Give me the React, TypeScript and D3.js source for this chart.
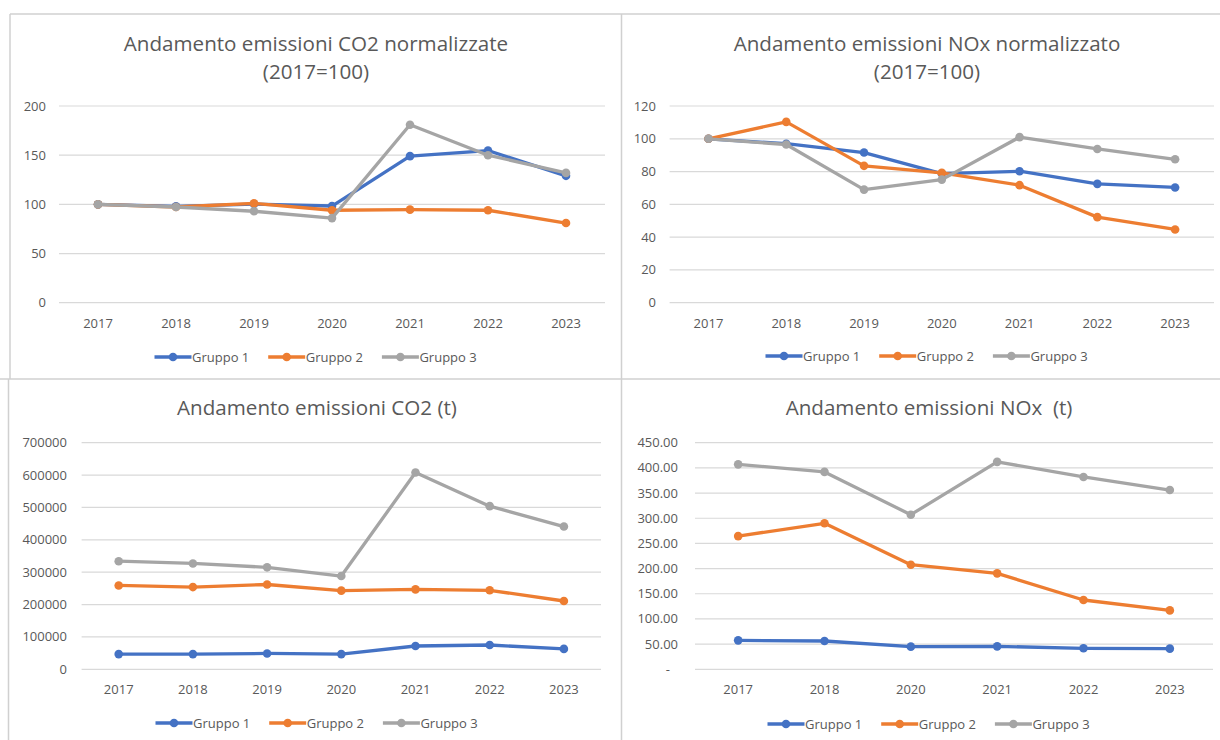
import React from 'react'
import * as d3 from 'd3'

// years on the x axis
const years = ['2017', '2018', '2019', '2020', '2021', '2022', '2023']
const yearsNox = ['2017', '2018', '2020', '2021', '2022', '2023']

const groups = ['Gruppo 1', 'Gruppo 2', 'Gruppo 3']
const colors = ['#4472C4', '#ED7D31', '#A5A5A5']

// CO2 normalizzate (2017=100)
const co2NormG1 = [100, 98, 100.3, 98.3, 149, 154.7, 129]
const co2NormG2 = [100, 97.3, 101, 94, 94.6, 94, 81]
const co2NormG3 = [100, 97.3, 93, 86, 181, 150, 132]

// NOx normalizzato (2017=100)
const noxNormG1 = [100, 97, 91.6, 78.8, 80.2, 72.5, 70.3]
const noxNormG2 = [100, 110.3, 83.5, 79.2, 71.7, 52.2, 44.7]
const noxNormG3 = [100, 96.5, 69, 75.1, 101, 93.8, 87.5]

// CO2 (t)
const co2G1 = [47000, 47000, 49000, 47000, 72000, 75000, 63000]
const co2G2 = [259000, 254000, 262000, 243000, 247000, 244000, 211000]
const co2G3 = [334000, 327000, 315000, 288000, 608000, 504000, 441000]

// NOx (t)
const noxG1 = [57.5, 56.2, 45, 45.6, 41.7, 41]
const noxG2 = [264.5, 290, 207.7, 190.5, 137.6, 117]
const noxG3 = [407, 392, 307, 412, 382, 356]

const co2NormTicks = [0, 50, 100, 150, 200]
const noxNormTicks = [0, 20, 40, 60, 80, 100, 120]
const co2Ticks = [0, 100000, 200000, 300000, 400000, 500000, 600000, 700000]
const noxTicks = [0, 50, 100, 150, 200, 250, 300, 350, 400, 450]

const FONT = '"Open Sans", "Noto Sans", sans-serif'
const TEXT = '#595959'
const GRID = '#D9D9D9'

type PanelProps = {
	title: string[]
	titleY: number
	cats: string[]
	series: number[][]
	ticks: number[]
	fmt: (d: number) => string
	x0: number
	x1: number
	yTop: number
	yBottom: number
	labelRight: number
	xLabelY: number
	legendY: number
	center: number
}

function Panel(props: PanelProps) {
	const {title, titleY, cats, series, ticks, fmt, x0, x1, yTop, yBottom, labelRight, xLabelY, legendY, center} = props
	const x = d3.scalePoint<string>().domain(cats).range([x0, x1]).padding(0.5)
	const y = d3.scaleLinear().domain([0, d3.max(ticks) as number]).range([yBottom, yTop])
	const line = d3.line<number>()
		.x((d, i) => x(cats[i]) as number)
		.y(d => y(d))

	const pitch = 113.7
	const legendStart = center - 323 / 2

	return (
		<g>
			{title.map((t, i) => (
				<text key={`t-${i}`} x={center} y={titleY + i * 28.5} dy="0.35em" textAnchor="middle"
					fontSize={20.6} fill={TEXT}>{t}</text>
			))}
			{ticks.map(t => (
				<g key={`g-${t}`}>
					<line x1={x0} x2={x1} y1={y(t)} y2={y(t)} stroke={GRID} strokeWidth={1.2}/>
					<text x={labelRight} dx={t === 0 && fmt(t) === '-' ? -8 : 0} y={y(t)} dy="0.35em" textAnchor="end"
						fontSize={13} fill={TEXT}>{fmt(t)}</text>
				</g>
			))}
			{cats.map(c => (
				<text key={`c-${c}`} x={x(c)} y={xLabelY} dy="0.35em" textAnchor="middle" fontSize={13} fill={TEXT}>{c}</text>
			))}
			{series.map((s, si) => (
				<g key={`s-${si}`}>
					<path d={line(s) as string} fill="none" stroke={colors[si]} strokeWidth={3.3} strokeLinejoin="round"/>
					{s.map((v, i) => (
						<circle key={i} cx={x(cats[i])} cy={y(v)} r={4.3} fill={colors[si]}/>
					))}
				</g>
			))}
			{groups.map((g, i) => {
				const lx = legendStart + i * pitch
				return (
					<g key={`l-${i}`}>
						<line x1={lx} x2={lx + 37} y1={legendY} y2={legendY} stroke={colors[i]} strokeWidth={3.3}/>
						<circle cx={lx + 18.5} cy={legendY} r={4.3} fill={colors[i]}/>
						<text x={lx + 37.5} y={legendY} dy="0.35em" fontSize={13} fill={TEXT}>{g}</text>
					</g>
				)
			})}
		</g>
	)
}

export default function App() {
	const fmtInt = (d: number) => String(d)
	const fmtNox = (d: number) => (d === 0 ? '-' : d.toFixed(2))
	return (
		<svg width={1220} height={740} viewBox="0 0 1220 740"
			style={{position: 'absolute', left: 0, top: 0, background: '#fff', fontFamily: FONT}}>
			<rect x={0} y={0} width={1220} height={740} fill="#fff"/>
			{/* chart borders */}
			<line x1={10} x2={1220} y1={14} y2={14} stroke="#D0D0D0" strokeWidth={1.5}/>
			<line x1={10} x2={10} y1={14} y2={379} stroke="#D0D0D0" strokeWidth={1.5}/>
			<line x1={621.5} x2={621.5} y1={14} y2={740} stroke="#D0D0D0" strokeWidth={1.5}/>
			<line x1={0} x2={1220} y1={379} y2={379} stroke="#D0D0D0" strokeWidth={1.5}/>
			<line x1={8.5} x2={8.5} y1={379} y2={740} stroke="#D0D0D0" strokeWidth={1.5}/>

			<Panel title={['Andamento emissioni CO2 normalizzate', '(2017=100)']} titleY={43.5}
				cats={years} series={[co2NormG1, co2NormG2, co2NormG3]} ticks={co2NormTicks} fmt={fmtInt}
				x0={59} x1={605} yTop={106} yBottom={302.7} labelRight={46} xLabelY={323} legendY={357} center={316}/>
			<Panel title={['Andamento emissioni NOx normalizzato', '(2017=100)']} titleY={43.5}
				cats={years} series={[noxNormG1, noxNormG2, noxNormG3]} ticks={noxNormTicks} fmt={fmtInt}
				x0={669.6} x1={1214} yTop={106} yBottom={302.7} labelRight={656} xLabelY={323} legendY={356} center={927}/>
			<Panel title={['Andamento emissioni CO2 (t)']} titleY={408}
				cats={years} series={[co2G1, co2G2, co2G3]} ticks={co2Ticks} fmt={fmtInt}
				x0={81.6} x1={601} yTop={442.7} yBottom={669.3} labelRight={67} xLabelY={689} legendY={723} center={317}/>
			<Panel title={['Andamento emissioni NOx\u00a0 (t)']} titleY={408}
				cats={yearsNox} series={[noxG1, noxG2, noxG3]} ticks={noxTicks} fmt={fmtNox}
				x0={695} x1={1213} yTop={442.7} yBottom={669.3} labelRight={678} xLabelY={689} legendY={724} center={929}/>
		</svg>
	)
}
